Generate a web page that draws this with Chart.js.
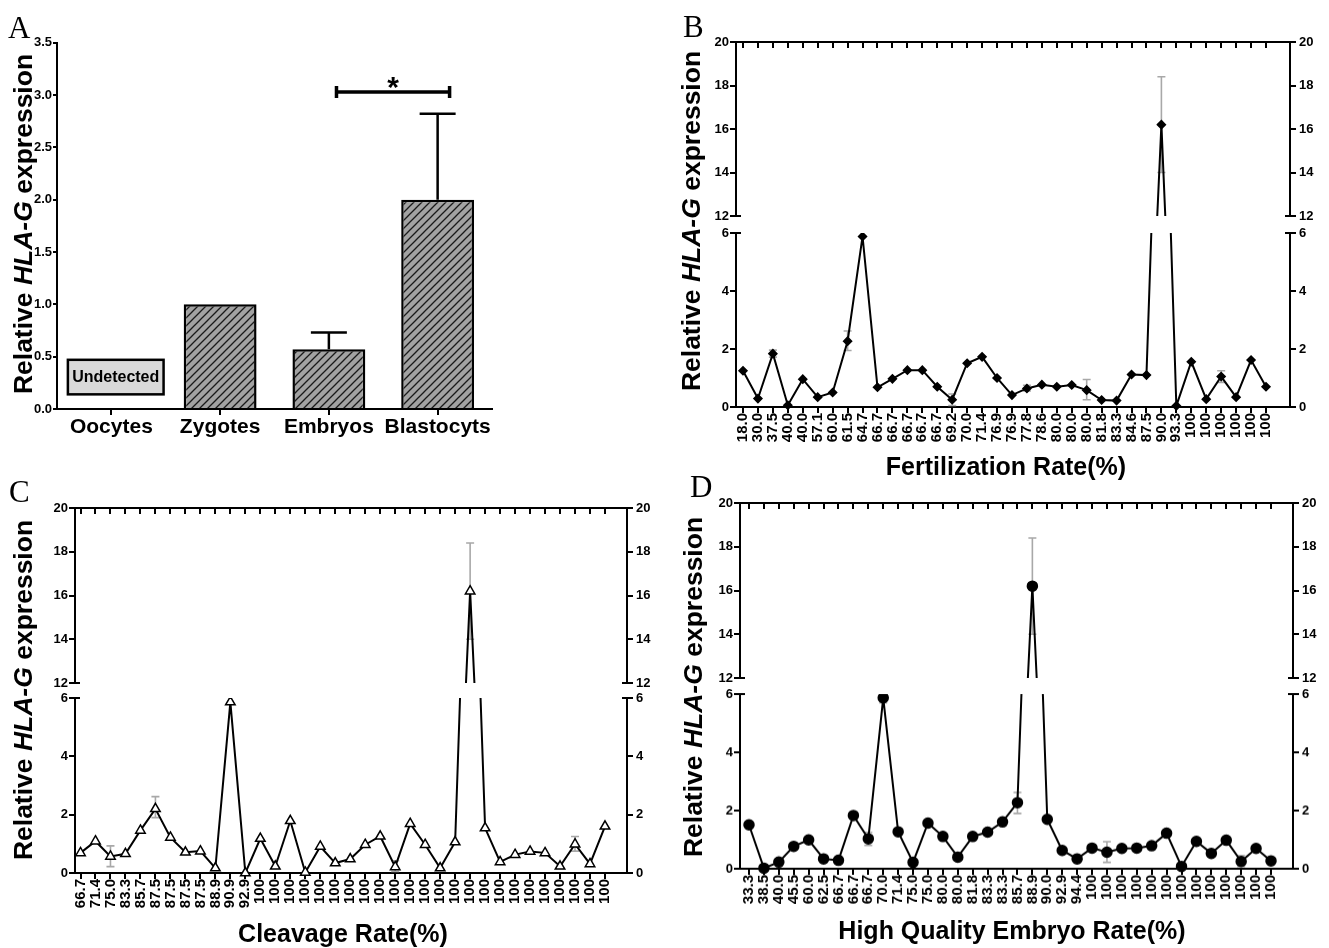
<!DOCTYPE html>
<html>
<head>
<meta charset="utf-8">
<title>HLA-G expression</title>
<script src="https://cdn.jsdelivr.net/npm/chart.js@4.4.1/dist/chart.umd.min.js"></script>
<style>
  body { margin:0; background:#fff; width:1329px; height:948px; position:relative; overflow:hidden;
         font-family:'Liberation Sans', Arial, sans-serif; }
  canvas { position:absolute; }
  .lbl { position:absolute; white-space:nowrap; font-weight:bold; color:#000; line-height:1; }
  .ytitle { transform:translate(-50%,-50%) rotate(-90deg); font-size:26.5px; }
  .xtitle { transform:translate(-50%,-50%); font-size:25px; }
  .letter { font-family:'Liberation Serif', 'Times New Roman', serif; font-weight:normal; font-size:31px; }
</style>
<script>
// ---- panel A : stages ----
const stageLabels = ['Oocytes', 'Zygotes', 'Embryos', 'Blastocyts'];
const stageValues = [null, 1.0, 0.57, 2.0];
const stageErrUpper = [null, null, 0.73, 2.82];
const stageTicks = [0, 0.5, 1.0, 1.5, 2.0, 2.5, 3.0, 3.5];
const undetectedBox = { from: -0.4, to: 0.48, low: 0.14, high: 0.47, text: 'Undetected' };
const sigBracket = { from: 2.07, to: 3.11, y: 3.03, text: '*' };

// ---- broken axis ticks (B, C, D) ----
const upperTicks = [12, 14, 16, 18, 20];
const lowerTicks = [0, 2, 4, 6];

// ---- panel B : fertilization rate ----
const fertLabels = ['18.0','30.0','37.5','40.0','40.0','57.1','60.0','61.5','64.7','66.7','66.7','66.7',
  '66.7','66.7','69.2','70.0','71.4','76.9','76.9','77.8','78.6','80.0','80.0','80.0','81.8','83.3',
  '84.6','87.5','90.0','93.3','100','100','100','100','100','100'];
const fertValues = [1.25,0.29,1.84,0.06,0.96,0.34,0.5,2.27,5.88,0.68,0.97,1.27,1.27,0.7,0.25,1.51,1.73,
  1.0,0.41,0.64,0.77,0.7,0.76,0.58,0.24,0.22,1.12,1.1,16.2,0.04,1.56,0.27,1.05,0.34,1.62,0.7];
// [index, low, high]
const fertErrors = [[2,1.72,1.96],[7,1.95,2.62],[14,0.05,0.45],[19,0.55,0.75],[23,0.25,0.95],
  [28,14.0,18.4],[32,0.85,1.25]];

// ---- panel C : cleavage rate ----
const cleavLabels = ['66.7','71.4','75.0','83.3','85.7','87.5','87.5','87.5','87.5','88.9','90.9','92.9',
  '100','100','100','100','100','100','100','100','100','100','100','100','100','100','100','100',
  '100','100','100','100','100','100','100','100'];
const cleavValues = [0.69,1.09,0.57,0.66,1.46,2.2,1.22,0.71,0.75,0.17,5.86,0.0,1.18,0.23,1.79,0.02,0.91,
  0.34,0.48,0.97,1.26,0.21,1.69,0.97,0.17,1.06,16.2,1.54,0.38,0.63,0.74,0.69,0.23,0.99,0.31,1.6];
const cleavErrors = [[2,0.22,0.93],[5,1.9,2.62],[21,0.05,0.42],[26,14.0,18.4],[33,0.75,1.25]];

// ---- panel D : high quality embryo rate ----
const hqLabels = ['33.3','38.5','40.0','45.5','60.0','62.5','66.7','66.7','66.7','70.0','71.4','75.0',
  '75.0','80.0','80.0','81.8','83.3','83.3','85.7','88.9','90.0','92.9','94.4','100','100','100','100',
  '100','100','100','100','100','100','100','100','100'];
const hqValues = [1.51,0.02,0.23,0.77,0.99,0.34,0.29,1.83,1.03,5.87,1.27,0.22,1.57,1.11,0.4,1.11,1.26,
  1.61,2.27,16.2,1.7,0.63,0.34,0.71,0.57,0.7,0.71,0.79,1.22,0.08,0.94,0.53,0.98,0.25,0.7,0.27];
const hqErrors = [[8,0.8,1.25],[9,5.7,5.9],[18,1.9,2.62],[19,14.0,18.4],[24,0.22,0.93],[33,0.08,0.45]];

// pixel layout of the three broken-axis panels
const layB = { cx:680, cw:649, L:736, R:1290, first:743, last:1266, y20:42, y12:216, y6:233, y0:407 };
const layC = { cx:0, cw:680, L:75, R:627, first:80.5, last:605, y20:507.5, y12:683, y6:698, y0:873 };
const layD = { cx:680, cw:649, L:740, R:1293, first:749, last:1271, y20:503, y12:678, y6:694, y0:868.5 };

const AXW_L = 40, AXW_R = 32, XAX_H = 50;

function makeCanvas(x, y, w, h) {
  const c = document.createElement('canvas');
  c.width = w; c.height = h;
  c.style.left = x + 'px'; c.style.top = y + 'px';
  c.style.width = w + 'px'; c.style.height = h + 'px';
  document.body.appendChild(c);
  return c;
}

function addText(html, x, y, cls) {
  const d = document.createElement('div');
  d.className = 'lbl ' + cls;
  d.innerHTML = html;
  d.style.left = x + 'px'; d.style.top = y + 'px';
  document.body.appendChild(d);
}

function hatch() {
  const c = document.createElement('canvas');
  c.width = c.height = 8;
  const g = c.getContext('2d');
  g.fillStyle = '#a2a2a2'; g.fillRect(0, 0, 8, 8);
  g.strokeStyle = '#1a1a1a'; g.lineWidth = 1.3;
  g.beginPath();
  g.moveTo(0, 8); g.lineTo(8, 0);
  g.moveTo(-2, 2); g.lineTo(2, -2);
  g.moveTo(6, 10); g.lineTo(10, 6);
  g.stroke();
  return g.createPattern(c, 'repeat');
}

function yAxis(pos, min, max, ticks, width, fmt) {
  return {
    position: pos, min: min, max: max,
    afterBuildTicks: s => { s.ticks = ticks.map(v => ({ value: v })); },
    afterFit: s => { s.width = width; },
    grid: { drawOnChartArea: false, color: '#000', lineWidth: 2, tickLength: 6 },
    border: { color: '#000', width: 2 },
    ticks: { color: '#000', padding: pos == 'left' ? 1 : 3, font: { size: 13, weight: 'bold' },
             callback: fmt || (v => v) }
  };
}

function errorPlugin(list) {
  return {
    id: 'errorBars',
    beforeDatasetsDraw(chart) {
      const { ctx, chartArea: a, scales: { x, y } } = chart;
      ctx.save();
      ctx.beginPath(); ctx.rect(a.left, a.top - 2, a.right - a.left, a.bottom - a.top + 4); ctx.clip();
      ctx.strokeStyle = '#a8a8a8'; ctx.lineWidth = 1.6;
      list.forEach(([i, lo, hi]) => {
        const px = x.getPixelForValue(i), p1 = y.getPixelForValue(lo), p2 = y.getPixelForValue(hi);
        ctx.beginPath();
        ctx.moveTo(px, p1); ctx.lineTo(px, p2);
        ctx.moveTo(px - 4, p1); ctx.lineTo(px + 4, p1);
        ctx.moveTo(px - 4, p2); ctx.lineTo(px + 4, p2);
        ctx.stroke();
      });
      ctx.restore();
    }
  };
}

// top frame with inward ticks (upper part) or inner caps at the break
function framePlugin(n, part) {
  return {
    id: 'frame',
    afterDraw(chart) {
      const { ctx, chartArea: a, scales: { x } } = chart;
      ctx.save();
      ctx.strokeStyle = '#000'; ctx.lineWidth = 2;
      ctx.beginPath();
      if (part == 'top') {
        ctx.moveTo(a.left - 1, a.top); ctx.lineTo(a.right + 1, a.top);
        for (let i = 0; i < n; i++) {
          const px = Math.round(x.getPixelForValue(i));
          ctx.moveTo(px, a.top); ctx.lineTo(px, a.top + 6);
        }
        ctx.moveTo(a.left, a.bottom); ctx.lineTo(a.left + 5, a.bottom);
        ctx.moveTo(a.right, a.bottom); ctx.lineTo(a.right - 5, a.bottom);
      } else {
        ctx.moveTo(a.left, a.top); ctx.lineTo(a.left + 5, a.top);
        ctx.moveTo(a.right, a.top); ctx.lineTo(a.right - 5, a.top);
      }
      ctx.stroke();
      ctx.restore();
    }
  };
}

const stageExtras = {
  id: 'stageExtras',
  afterDatasetsDraw(chart) {
    const { ctx, scales: { x, y } } = chart;
    ctx.save();
    ctx.strokeStyle = '#000'; ctx.lineWidth = 2.5;
    // error bars (upper only)
    stageErrUpper.forEach((e, i) => {
      if (e == null) return;
      const px = x.getPixelForValue(i), top = y.getPixelForValue(e);
      ctx.beginPath();
      ctx.moveTo(px, y.getPixelForValue(stageValues[i])); ctx.lineTo(px, top);
      ctx.moveTo(px - 18, top); ctx.lineTo(px + 18, top);
      ctx.stroke();
    });
    // significance bracket
    const bx1 = x.getPixelForValue(sigBracket.from), bx2 = x.getPixelForValue(sigBracket.to);
    const by = y.getPixelForValue(sigBracket.y);
    ctx.lineWidth = 3.5;
    ctx.beginPath();
    ctx.moveTo(bx1, by); ctx.lineTo(bx2, by);
    ctx.moveTo(bx1, by - 6); ctx.lineTo(bx1, by + 6);
    ctx.moveTo(bx2, by - 6); ctx.lineTo(bx2, by + 6);
    ctx.stroke();
    ctx.fillStyle = '#000';
    ctx.font = 'bold 30px "Liberation Sans", Arial, sans-serif';
    ctx.textAlign = 'center'; ctx.textBaseline = 'alphabetic';
    ctx.fillText(sigBracket.text, (bx1 + bx2) / 2, by + 5);
    // "Undetected" box
    const ux1 = x.getPixelForValue(undetectedBox.from), ux2 = x.getPixelForValue(undetectedBox.to);
    const uy1 = y.getPixelForValue(undetectedBox.high), uy2 = y.getPixelForValue(undetectedBox.low);
    ctx.fillStyle = '#d9d9d9';
    ctx.fillRect(ux1, uy1, ux2 - ux1, uy2 - uy1);
    ctx.lineWidth = 2.5;
    ctx.strokeRect(ux1, uy1, ux2 - ux1, uy2 - uy1);
    ctx.fillStyle = '#000';
    ctx.font = 'bold 16px "Liberation Sans", Arial, sans-serif';
    ctx.textBaseline = 'middle';
    ctx.fillText(undetectedBox.text, (ux1 + ux2) / 2, (uy1 + uy2) / 2 + 1);
    ctx.restore();
  }
};

const common = {
  responsive: false, animation: false, devicePixelRatio: 1,
  plugins: { legend: { display: false }, tooltip: { enabled: false } }
};

function brokenPanel(lay, labels, values, errors, marker) {
  const n = labels.length;
  const s = (lay.last - lay.first) / (n - 1);
  const xmin = -(lay.first - lay.L) / s, xmax = n - 1 + (lay.R - lay.last) / s;
  const pts = values.map((v, i) => ({ x: i, y: v }));
  const ds = Object.assign({ data: pts, borderColor: '#000', borderWidth: 2, tension: 0,
    pointBorderColor: '#000', pointBorderWidth: 1.5, pointHoverRadius: 0 }, marker);
  const padL = lay.L - lay.cx - AXW_L, padR = lay.cx + lay.cw - lay.R - AXW_R;

  // upper segment 12-20
  const tTop = lay.y20 - 14, tH = lay.y12 + 12 - tTop;
  new Chart(makeCanvas(lay.cx, tTop, lay.cw, tH), {
    type: 'line',
    data: { datasets: [Object.assign({}, ds, { clip: { left: 8, right: 8, top: 8, bottom: 0 } })] },
    options: Object.assign({}, common, {
      layout: { padding: { left: padL, right: padR, top: 14, bottom: 12 } },
      scales: {
        x: { type: 'linear', min: xmin, max: xmax, display: false },
        y: yAxis('left', 12, 20, upperTicks, AXW_L),
        y2: yAxis('right', 12, 20, upperTicks, AXW_R)
      }
    }),
    plugins: [errorPlugin(errors), framePlugin(n, 'top')]
  });

  // lower segment 0-6
  const bTop = lay.y6 - 11, bH = lay.y0 + XAX_H + 15 - bTop;
  new Chart(makeCanvas(lay.cx, bTop, lay.cw, bH), {
    type: 'line',
    data: { datasets: [Object.assign({}, ds, { clip: { left: 8, right: 8, top: 0, bottom: 8 } })] },
    options: Object.assign({}, common, {
      layout: { padding: { left: padL, right: padR, top: 11, bottom: 15 } },
      scales: {
        x: {
          type: 'linear', min: xmin, max: xmax, position: 'bottom',
          afterBuildTicks: sc => { sc.ticks = labels.map((_, i) => ({ value: i })); },
          afterFit: sc => { sc.height = XAX_H; },
          grid: { drawOnChartArea: false, color: '#000', lineWidth: 2, tickLength: 6 },
          border: { color: '#000', width: 2 },
          ticks: { autoSkip: false, maxRotation: 90, minRotation: 90, padding: 0, color: '#000',
                   font: { size: 15, weight: 'bold' }, callback: v => labels[v] }
        },
        y: yAxis('left', 0, 6, lowerTicks, AXW_L),
        y2: yAxis('right', 0, 6, lowerTicks, AXW_R)
      }
    }),
    plugins: [errorPlugin(errors), framePlugin(n, 'bottom')]
  });
}

function draw() {
  Chart.defaults.font.family = "'Liberation Sans', Arial, sans-serif";
  Chart.defaults.color = '#000';

  // panel A
  new Chart(makeCanvas(0, 0, 660, 470), {
    type: 'bar',
    data: { labels: stageLabels, datasets: [{ data: stageValues, backgroundColor: hatch(),
      borderColor: '#000', borderWidth: 2.5, barPercentage: 0.67, categoryPercentage: 1 }] },
    options: Object.assign({}, common, {
      layout: { padding: { left: 17, right: 168, top: 42.7, bottom: 21 } },
      scales: {
        x: { offset: true, afterFit: s => { s.height = 40; },
             grid: { drawOnChartArea: false, offset: false, color: '#000', lineWidth: 2, tickLength: 6 },
             border: { color: '#000', width: 2 },
             ticks: { color: '#000', padding: 0, autoSkip: false, maxRotation: 0, minRotation: 0,
                      font: { size: 21, weight: 'bold' } } },
        y: Object.assign(yAxis('left', 0, 3.5, stageTicks, 40, v => v.toFixed(1)),
             { grid: { drawOnChartArea: false, color: '#000', lineWidth: 2, tickLength: 4 } })
      }
    }),
    plugins: [stageExtras]
  });

  brokenPanel(layB, fertLabels, fertValues, fertErrors,
    { pointStyle: 'rectRot', pointRadius: 4, pointBackgroundColor: '#000' });
  brokenPanel(layC, cleavLabels, cleavValues, cleavErrors,
    { pointStyle: 'triangle', pointRadius: 5.5, pointBackgroundColor: '#fff' });
  brokenPanel(layD, hqLabels, hqValues, hqErrors,
    { pointStyle: 'circle', pointRadius: 5, pointBackgroundColor: '#000' });

  // titles and panel letters
  const yt = 'Relative <i>HLA-G</i> expression';
  addText(yt, 23, 224, 'ytitle');
  addText(yt, 691, 221, 'ytitle');
  addText(yt, 23, 690, 'ytitle');
  addText(yt, 693, 687, 'ytitle');
  addText('Fertilization Rate(%)', 1006, 466, 'xtitle');
  addText('Cleavage Rate(%)', 343, 933, 'xtitle');
  addText('High Quality Embryo Rate(%)', 1012, 930, 'xtitle');
  addText('A', 8, 12, 'letter');
  addText('B', 683, 11, 'letter');
  addText('C', 9, 476, 'letter');
  addText('D', 690, 471, 'letter');
}
onload = draw;
</script>
</head>
<body>
</body>
</html>
